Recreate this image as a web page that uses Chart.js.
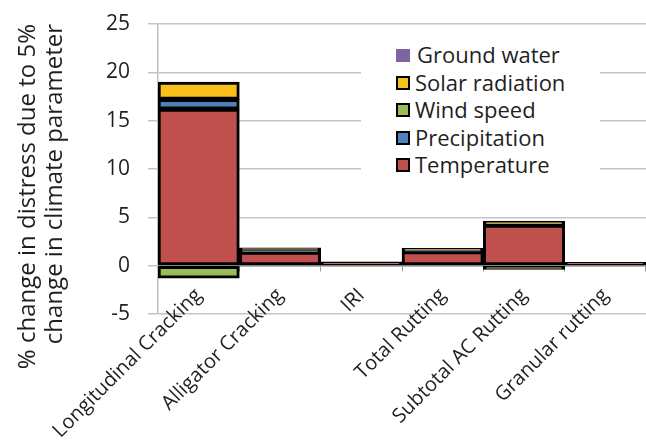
<!DOCTYPE html>
<html>
<head>
<meta charset="utf-8">
<script src="https://cdn.jsdelivr.net/npm/chart.js@4.4.1/dist/chart.umd.min.js"></script>
<style>
  body { margin: 0; background: #fff; }
  #wrap { position: relative; width: 646px; height: 445px; }
  #legend { position: absolute; left: 361px; top: 31px; width: 239px; height: 158px; background: #fff;
            font-family: 'Open Sans', sans-serif; font-size: 22px; color: #1f1f1f; }
  .item { position: absolute; left: 35px; height: 28px; line-height: 28px; white-space: nowrap; }
  .box { display: inline-block; width: 10px; height: 10px; border: 2.5px solid #000; vertical-align: middle;
         margin-right: 5px; position: relative; top: -2px; }
</style>
</head>
<body>
<div id="wrap">
  <canvas id="myChart" width="646" height="445"></canvas>
  <div id="legend"></div>
</div>
<script>
const categories = ['Longitudinal Cracking', 'Alligator Cracking', 'IRI', 'Total Rutting', 'Subtotal AC Rutting', 'Granular rutting'];
const temperature = [16.2, 1.4, 0.4, 1.45, 4.2, 0.35];
const precipitation = [1.0, 0.2, 0, 0.15, 0, 0];
const windSpeed = [-1.3, 0, 0, 0, -0.4, 0];
const solarRadiation = [1.8, 0.25, 0, 0.2, 0.4, 0];
const groundWater = [0, 0, 0, 0, 0, 0];
const yTicks = [-5, 0, 5, 10, 15, 20, 25];

const seriesNames = ['Temperature', 'Precipitation', 'Wind speed', 'Solar radiation', 'Ground water'];
const seriesValues = [temperature, precipitation, windSpeed, solarRadiation, groundWater];
const seriesColors = ['#C0504D', '#4F81BD', '#9BBB59', '#F9C01B', '#8064A2'];

const datasets = seriesNames.map((name, i) => ({
    label: name,
    data: seriesValues[i],
    backgroundColor: seriesColors[i],
    borderColor: '#000',
    borderWidth: 3,
    borderSkipped: false,
    barPercentage: 1,
    categoryPercentage: 1
}));

// legend sits inside the plot, top to bottom in reverse stacking order
const legendEl = document.getElementById('legend');
seriesNames.slice().reverse().forEach((name, k) => {
    const i = seriesNames.length - 1 - k;
    const item = document.createElement('div');
    item.className = 'item';
    item.style.top = (9 + k * 27.5) + 'px';
    const box = document.createElement('span');
    box.className = 'box';
    box.style.background = seriesColors[i];
    if (name === 'Ground water') {
        box.style.border = 'none';
        box.style.width = '14px';
        box.style.height = '13px';
        box.style.marginRight = '7px';
    }
    item.appendChild(box);
    item.appendChild(document.createTextNode(name));
    legendEl.appendChild(item);
});

// plot box is fixed by the layout padding, not by label overhang
function noOverhang(s) {
    s.paddingTop = 0;
    s.paddingBottom = 0;
}

const ctx = document.getElementById('myChart').getContext('2d');
new Chart(ctx, {
    type: 'bar',
    data: { labels: categories, datasets: datasets },
    options: {
        responsive: false,
        animation: false,
        layout: { padding: { left: 0, right: 0, top: 24, bottom: 131 } },
        plugins: { legend: { display: false }, tooltip: { enabled: false } },
        scales: {
            x: {
                stacked: true,
                position: { y: 0 },
                afterFit: noOverhang,
                grid: { drawOnChartArea: false, drawTicks: true, tickLength: 5, color: '#999' },
                border: { color: '#8c8c8c', width: 1.5 },
                ticks: {
                    autoSkip: false,
                    maxRotation: 45,
                    minRotation: 45,
                    padding: 13,
                    color: '#1f1f1f',
                    font: { family: 'Open Sans', size: 20 }
                }
            },
            y: {
                stacked: true,
                min: yTicks[0],
                max: yTicks[yTicks.length - 1],
                afterFit: s => { s.width = 158; noOverhang(s); },
                afterBuildTicks: s => { s.ticks = yTicks.map(v => ({ value: v })); },
                grid: { color: '#c4c4c4', lineWidth: 1.5, tickLength: 10 },
                border: { color: '#bfbfbf', width: 1.5 },
                ticks: {
                    padding: 18,
                    color: '#1f1f1f',
                    font: { family: 'Open Sans', size: 21 }
                },
                title: {
                    display: true,
                    text: ['% change in distress due to 5%', 'change in climate parameter'],
                    align: 'end',
                    color: '#1f1f1f',
                    font: { family: 'Open Sans', size: 24, lineHeight: 1.15 },
                    padding: { top: 14, bottom: 0 }
                }
            }
        }
    }
});
</script>
</body>
</html>
